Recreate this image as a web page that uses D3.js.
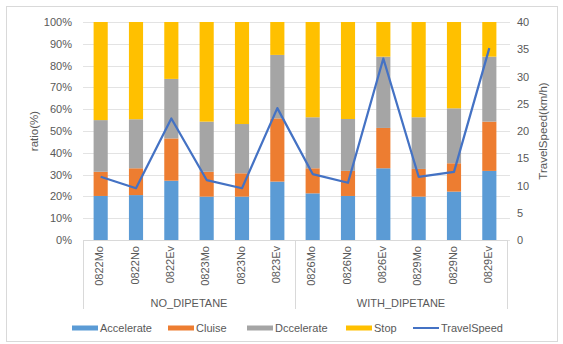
<!DOCTYPE html>
<html>
<head>
<meta charset="utf-8">
<script src="https://cdn.jsdelivr.net/npm/d3@7"></script>
<style>
  html, body { margin: 0; padding: 0; background: #fff; }
  svg { display: block; font-family: Arial, "Liberation Sans", sans-serif; }
</style>
</head>
<body>
<svg id="chart" width="563" height="344"></svg>
<script>
// Categories: test runs grouped by fuel condition
const categories = ["0822Mo","0822No","0822Ev","0823Mo","0823No","0823Ev",
                    "0826Mo","0826No","0826Ev","0829Mo","0829No","0829Ev"];
const groups = [
  { name: "NO_DIPETANE", from: 0, to: 6 },
  { name: "WITH_DIPETANE", from: 6, to: 12 }
];

// Driving-mode shares (%)
const accelerate = [20.2, 20.6, 27.2, 19.9, 19.9, 26.8, 21.4, 20.2, 32.9, 19.9, 22.2, 31.7];
const cruise     = [11.1, 12.3, 19.4, 11.4, 10.7, 29.0, 11.5, 11.5, 18.5, 12.7, 13.0, 22.6];
const decelerate = [23.7, 22.5, 27.3, 23.0, 22.6, 29.1, 23.4, 23.8, 32.7, 23.7, 25.2, 29.8];
const stop       = [45.0, 44.6, 26.1, 45.7, 46.8, 15.1, 43.7, 44.5, 15.9, 43.7, 39.6, 15.9];

// Average travel speed (km/h)
const travelSpeed = [11.6, 9.5, 22.3, 11.0, 9.5, 24.2, 12.1, 10.5, 33.3, 11.6, 12.5, 35.2];

const leftTicks = [0,10,20,30,40,50,60,70,80,90,100];
const rightTicks = [0,5,10,15,20,25,30,35,40];

const seriesNames = ["Accelerate", "Cluise", "Dccelerate", "Stop"];
const colors = ["#5B9BD5", "#ED7D31", "#A5A5A5", "#FFC000"];
const lineColor = "#4472C4";
const textColor = "#595959";

const svg = d3.select("#chart");

// chart frame
svg.append("rect")
  .attr("x", 6.5).attr("y", 6.5).attr("width", 551).attr("height", 335)
  .attr("fill", "#fff").attr("stroke", "#D9D9D9").attr("stroke-width", 1);

const plot = { left: 83, right: 507, top: 22, bottom: 240 };

const x = d3.scaleBand().domain(categories).range([plot.left, plot.right]).paddingInner(0.6).paddingOuter(0.3);
const yL = d3.scaleLinear().domain([0, 100]).range([plot.bottom, plot.top]);
const yR = d3.scaleLinear().domain([0, 40]).range([plot.bottom, plot.top]);

// horizontal gridlines
svg.append("g").selectAll("line").data(leftTicks).join("line")
  .attr("x1", plot.left).attr("x2", plot.right + 3)
  .attr("y1", d => Math.round(yL(d)) + 0.5).attr("y2", d => Math.round(yL(d)) + 0.5)
  .attr("stroke", "#E3E3E3").attr("stroke-width", 1);

// stacked bars
const rows = categories.map((c, i) => ({
  cat: c, Accelerate: accelerate[i], Cluise: cruise[i], Dccelerate: decelerate[i], Stop: stop[i]
}));
const stacked = d3.stack().keys(seriesNames)(rows);

svg.append("g").selectAll("g").data(stacked).join("g")
  .attr("fill", (d, i) => colors[i])
  .selectAll("rect").data(d => d).join("rect")
  .attr("x", d => x(d.data.cat))
  .attr("width", x.bandwidth())
  .attr("y", d => yL(Math.min(d[1], 100)))
  .attr("height", d => yL(d[0]) - yL(Math.min(d[1], 100)));

// travel speed line
const line = d3.line()
  .x((d, i) => x(categories[i]) + x.bandwidth() / 2)
  .y(d => yR(d));
svg.append("path").datum(travelSpeed)
  .attr("d", line).attr("fill", "none")
  .attr("stroke", lineColor).attr("stroke-width", 2.25).attr("stroke-linejoin", "round");

// left axis
const leftAxis = d3.axisLeft(yL).tickValues(leftTicks).tickFormat(d => d + "%").tickSize(0).tickPadding(10);
const gL = svg.append("g").attr("transform", `translate(${plot.left},0)`).call(leftAxis);
gL.select(".domain").remove();
gL.selectAll("text").attr("fill", textColor).style("font-size", "11px")
  .attr("x", -11);

// right axis
const rightAxis = d3.axisRight(yR).tickValues(rightTicks).tickSize(0).tickPadding(10);
const gR = svg.append("g").attr("transform", `translate(${plot.right},0)`).call(rightAxis);
gR.select(".domain").remove();
gR.selectAll("text").attr("fill", textColor).style("font-size", "11px");

// axis titles
svg.append("text")
  .attr("transform", `translate(38,${(plot.top + plot.bottom) / 2}) rotate(-90)`)
  .attr("text-anchor", "middle").attr("fill", textColor).style("font-size", "11.5px")
  .text("ratio(%)");
svg.append("text")
  .attr("transform", `translate(547,${(plot.top + plot.bottom) / 2}) rotate(-90)`)
  .attr("text-anchor", "middle").attr("fill", textColor).style("font-size", "11.5px")
  .text("TravelSpeed(km/h)");

// category axis: baseline, group separators and labels
const catEdge = i => plot.left + (plot.right - plot.left) * i / categories.length;
svg.append("line")
  .attr("x1", plot.left).attr("x2", plot.right)
  .attr("y1", plot.bottom + 0.5).attr("y2", plot.bottom + 0.5)
  .attr("stroke", "#D9D9D9");
const sepIdx = [0, 6, 12];
svg.append("g").selectAll("line").data(sepIdx).join("line")
  .attr("x1", d => Math.round(catEdge(d)) + 0.5).attr("x2", d => Math.round(catEdge(d)) + 0.5)
  .attr("y1", plot.bottom).attr("y2", 309)
  .attr("stroke", "#D9D9D9");

svg.append("g").selectAll("text").data(categories).join("text")
  .attr("transform", d => `translate(${x(d) + x.bandwidth() / 2 + 2.5},${plot.bottom + 6}) rotate(-90)`)
  .attr("text-anchor", "end").attr("fill", textColor).style("font-size", "11px")
  .text(d => d);

svg.append("g").selectAll("text").data(groups).join("text")
  .attr("x", d => (catEdge(d.from) + catEdge(d.to)) / 2)
  .attr("y", 307)
  .attr("text-anchor", "middle").attr("fill", textColor).style("font-size", "11px")
  .text(d => d.name);

// legend
const legendItems = [
  { name: "Accelerate", color: colors[0], x: 72 },
  { name: "Cluise", color: colors[1], x: 168 },
  { name: "Dccelerate", color: colors[2], x: 247 },
  { name: "Stop", color: colors[3], x: 346 },
  { name: "TravelSpeed", color: lineColor, x: 413, line: true }
];
const lg = svg.append("g").selectAll("g").data(legendItems).join("g")
  .attr("transform", d => `translate(${d.x},328)`);
lg.append("rect")
  .attr("x", 0).attr("y", d => d.line ? -1 : -2.5)
  .attr("width", 26).attr("height", d => d.line ? 2 : 5)
  .attr("fill", d => d.color);
lg.append("text")
  .attr("x", 28).attr("y", 4)
  .attr("fill", textColor).style("font-size", "11px")
  .text(d => d.name);
</script>
</body>
</html>
